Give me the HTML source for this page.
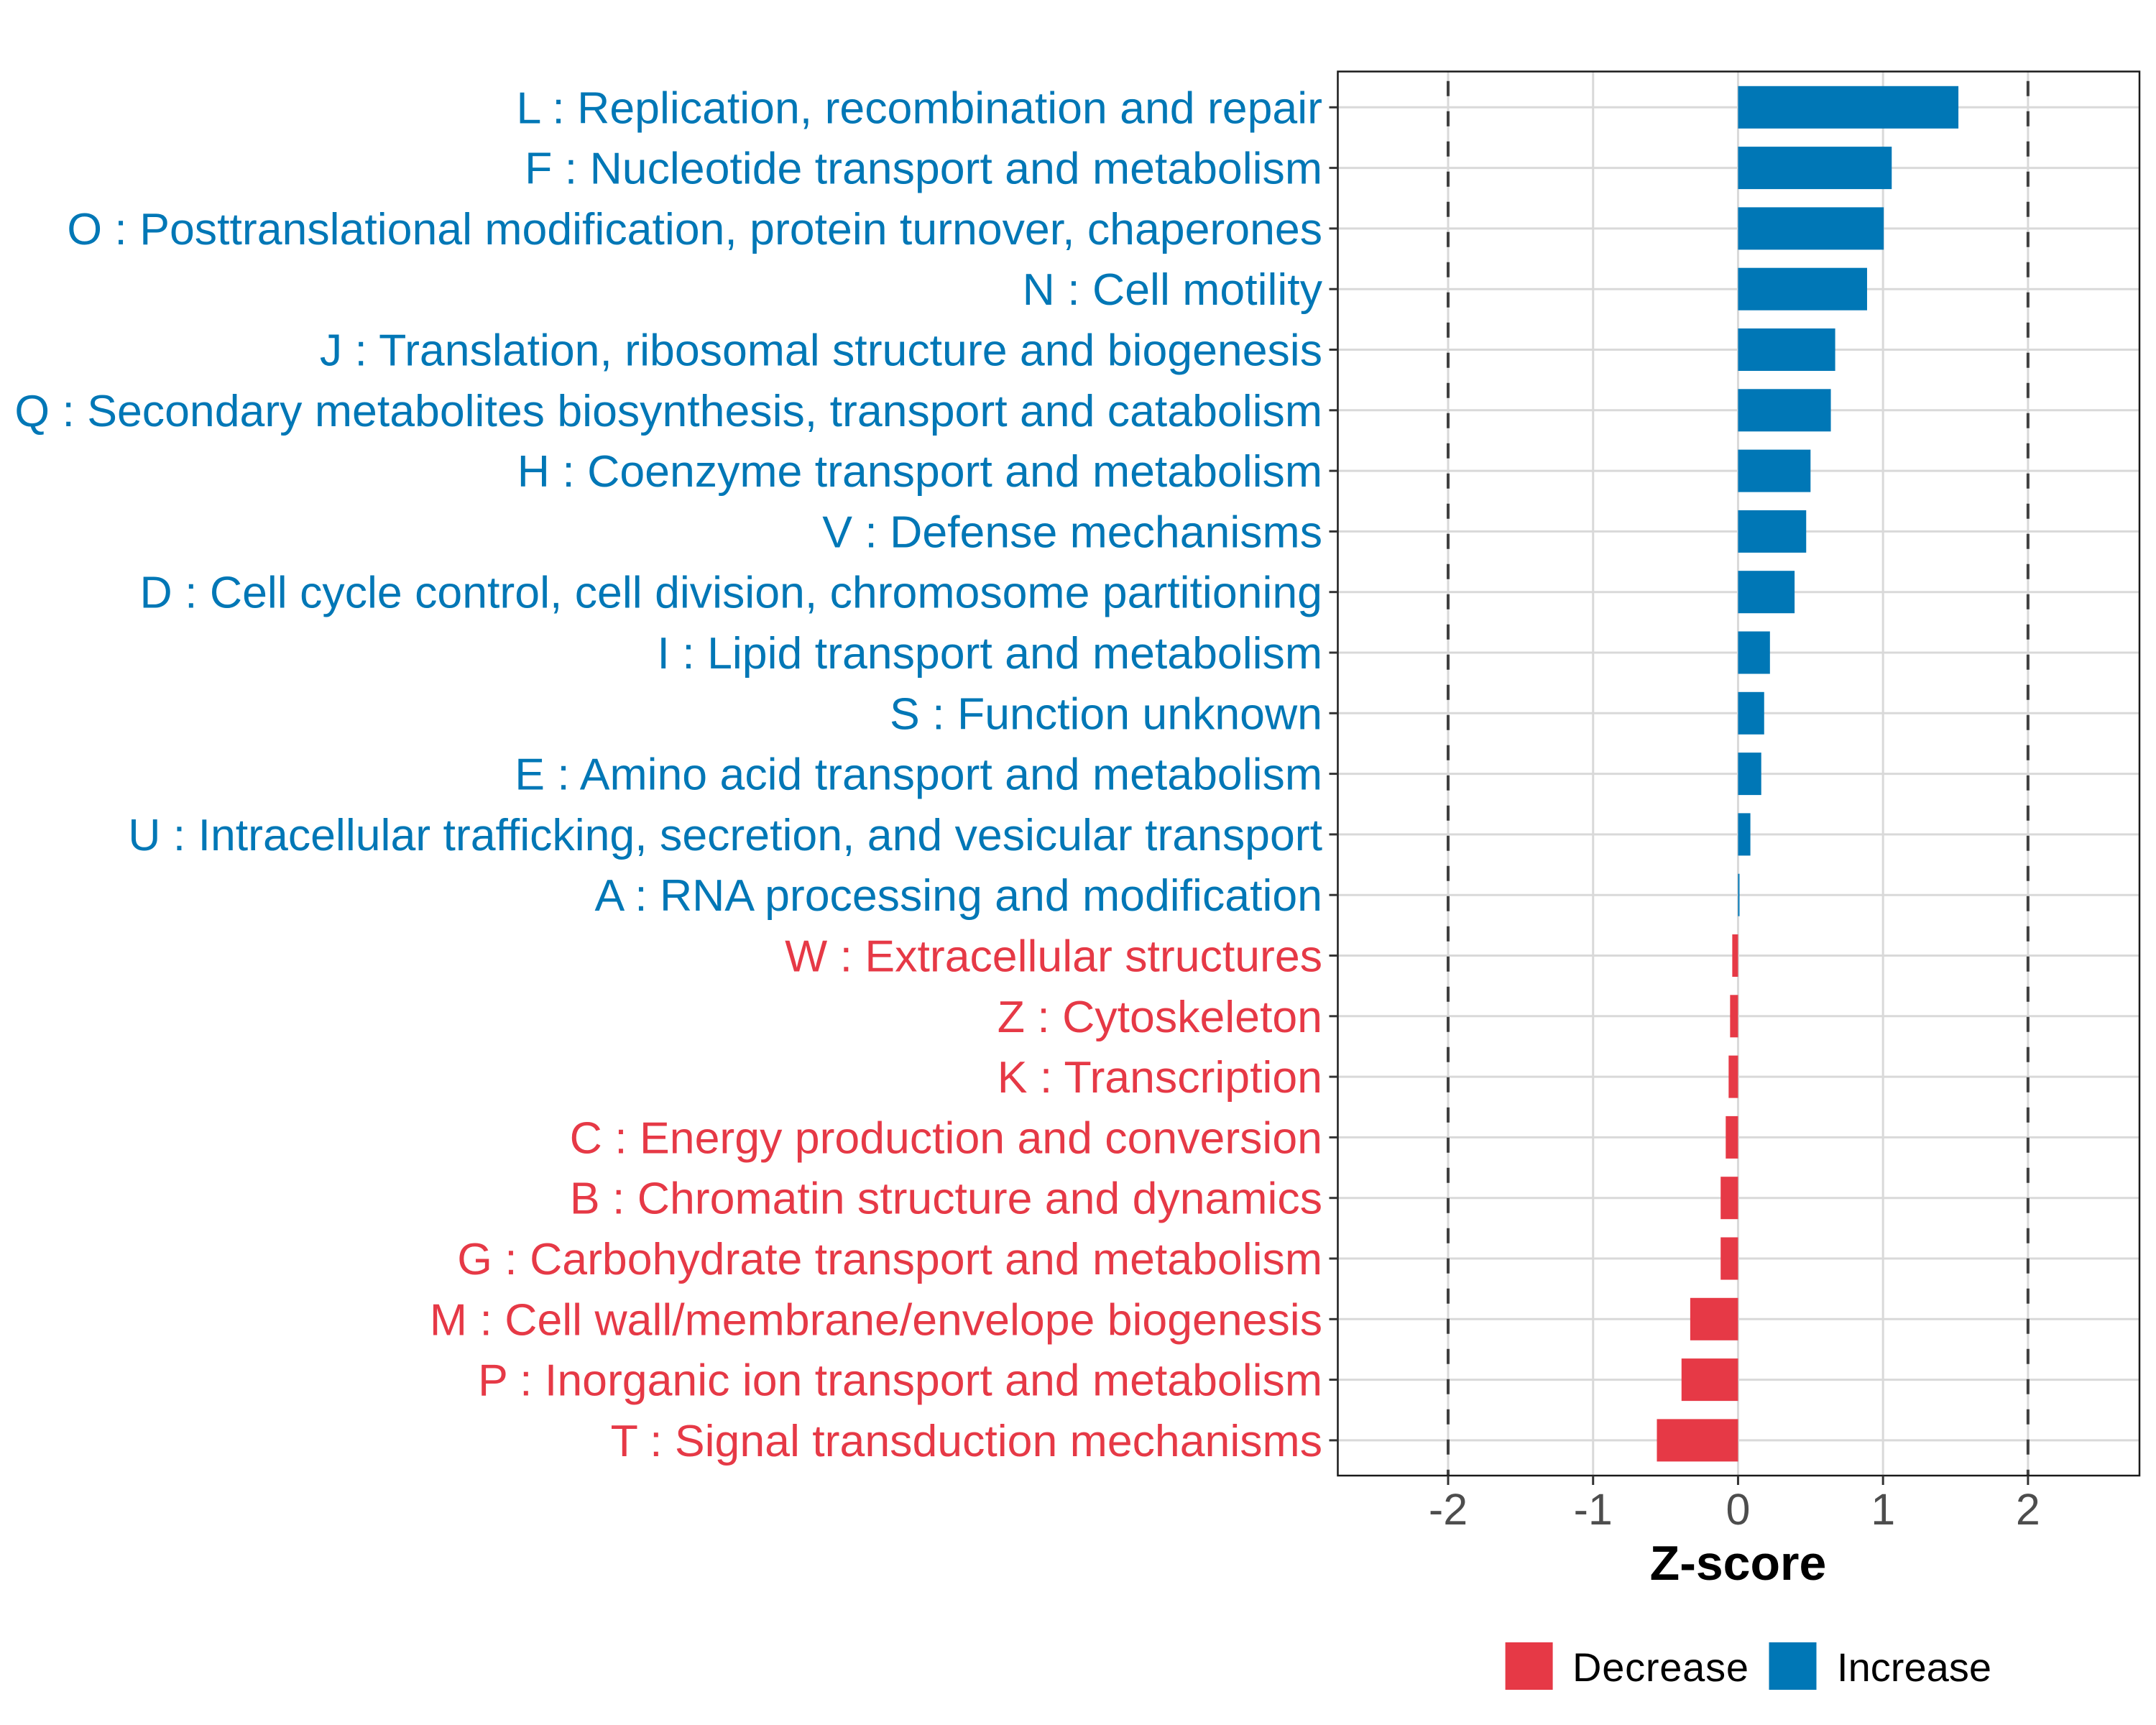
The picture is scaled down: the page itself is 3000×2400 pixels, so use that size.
<!DOCTYPE html>
<html><head><meta charset="utf-8"><style>
html,body{margin:0;padding:0;background:#fff}
svg{display:block;font-family:"Liberation Sans",Arial,sans-serif}
</style></head><body>
<svg id="chart" width="3000" height="2400" viewBox="0 0 3000 2400">
<rect width="3000" height="2400" fill="#fff"/>
<g id="grid"></g>
<g id="bars"></g>
<g id="refs"></g>
<rect x="1861.5" y="99.5" width="1115.5" height="1953.5" fill="none" stroke="#1a1a1a" stroke-width="2.5"/>
<g id="ylab"></g>
<g id="xax"></g>
<text x="2418.5" y="2198" font-size="68" font-weight="bold" text-anchor="middle" fill="#000">Z-score</text>
<g>
<rect x="2094.6" y="2285" width="66" height="66" fill="#E63946"/>
<text x="2188" y="2339" font-size="56" fill="#000" textLength="245">Decrease</text>
<rect x="2461.5" y="2285" width="66" height="66" fill="#0077B6"/>
<text x="2556" y="2339" font-size="56" fill="#000" textLength="215">Increase</text>
</g>
</svg>
<script>
const categories = [
"L : Replication, recombination and repair",
"F : Nucleotide transport and metabolism",
"O : Posttranslational modification, protein turnover, chaperones",
"N : Cell motility",
"J : Translation, ribosomal structure and biogenesis",
"Q : Secondary metabolites biosynthesis, transport and catabolism",
"H : Coenzyme transport and metabolism",
"V : Defense mechanisms",
"D : Cell cycle control, cell division, chromosome partitioning",
"I : Lipid transport and metabolism",
"S : Function unknown",
"E : Amino acid transport and metabolism",
"U : Intracellular trafficking, secretion, and vesicular transport",
"A : RNA processing and modification",
"W : Extracellular structures",
"Z : Cytoskeleton",
"K : Transcription",
"C : Energy production and conversion",
"B : Chromatin structure and dynamics",
"G : Carbohydrate transport and metabolism",
"M : Cell wall/membrane/envelope biogenesis",
"P : Inorganic ion transport and metabolism",
"T : Signal transduction mechanisms"];
const zscores = [1.52,1.06,1.005,0.89,0.67,0.64,0.50,0.47,0.39,0.22,0.18,0.16,0.085,0.01,-0.04,-0.055,-0.065,-0.085,-0.12,-0.12,-0.33,-0.39,-0.56];
const xTicks = [-2,-1,0,1,2];
const xTickLabels = ["-2","-1","0","1","2"];
const refLines = [-2,2];

const NS="http://www.w3.org/2000/svg";
const PL=1861.5, PR=2977, PT=99.5, PB=2053;
const XMIN=-2.761, XMAX=2.769;
const x = v => PL + (v - XMIN) / (XMAX - XMIN) * (PR - PL);
const ROW0=149.3, STEP=84.3;
const y = i => ROW0 + i * STEP;
const BH = 0.7*STEP;
const RED="#E63946", BLUE="#0077B6";
function mk(tag, attrs, parent){const e=document.createElementNS(NS,tag);for(const k in attrs)e.setAttribute(k,attrs[k]);parent.appendChild(e);return e;}
const grid=document.getElementById('grid'), bars=document.getElementById('bars'), refs=document.getElementById('refs'), ylab=document.getElementById('ylab'), xax=document.getElementById('xax');

xTicks.forEach((t,i)=>{
  const g=mk('line',{x1:x(t),x2:x(t),y1:PT,y2:PB,stroke:'#d9d9d9','stroke-width':3},grid);
  
  
  const tk=mk('line',{x1:x(t),x2:x(t),y1:PB,y2:PB+13,stroke:'#333','stroke-width':3},xax);
  
  
  const tl=mk('text',{x:x(t),y:2121,'font-size':61,'text-anchor':'middle',fill:'#4d4d4d'},xax);
  tl.textContent=xTickLabels[i];
  
  
});
categories.forEach((c,i)=>{
  const g=mk('line',{x1:PL,x2:PR,y1:y(i),y2:y(i),stroke:'#d9d9d9','stroke-width':3},grid);
  
  
  const v=zscores[i];
  const b=mk('rect',{x:Math.min(x(0),x(v)),y:y(i)-BH/2,width:Math.max(Math.abs(x(v)-x(0)),1),height:BH,fill:v>=0?BLUE:RED},bars);
  
  
  const tk=mk('line',{x1:PL-12,x2:PL,y1:y(i),y2:y(i),stroke:'#333','stroke-width':3},ylab);
  
  
  const t=mk('text',{x:1840,y:y(i)+22,'font-size':62.6,'text-anchor':'end',fill:v>=0?BLUE:RED},ylab);
  t.textContent=c;
  
  
});
refLines.forEach(r=>{
  const l=mk('line',{x1:x(r),x2:x(r),y1:112.7,y2:PB,stroke:'#404040','stroke-width':4,'stroke-dasharray':'21 21'},refs);
  
  
});
</script>
</body></html>
